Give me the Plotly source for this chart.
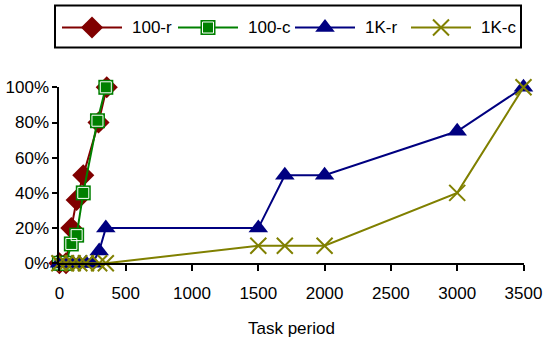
import plotly.graph_objects as go

# Task periods and fraction of completed runs for each configuration
x_100r = [0, 50, 90, 130, 180, 295, 357]
y_100r = [0, 0, 0.20, 0.36, 0.50, 0.80, 1.00]

x_100c = [0, 50, 90, 130, 180, 287, 350]
y_100c = [0, 0, 0.11, 0.16, 0.40, 0.81, 1.00]

x_1kr = [0, 50, 100, 150, 200, 250, 300, 350, 1500, 1700, 2000, 3000, 3500]
y_1kr = [0, 0, 0, 0, 0, 0, 0.07, 0.20, 0.20, 0.50, 0.50, 0.75, 1.00]

x_1kc = [0, 50, 100, 150, 200, 300, 350, 1500, 1700, 2000, 3000, 3500]
y_1kc = [0, 0, 0, 0, 0, 0, 0, 0.10, 0.10, 0.10, 0.40, 1.00]

x_ticks = [0, 500, 1000, 1500, 2000, 2500, 3000, 3500]
y_ticks = [0, 0.2, 0.4, 0.6, 0.8, 1.0]
y_tick_text = ["0%", "20%", "40%", "60%", "80%", "100%"]

names = ["100-r", "100-c", "1K-r", "1K-c"]

W, H = 549, 345
FONT = "Liberation Sans, Arial, sans-serif"
RED, GREEN, NAVY, OLIVE = "#800000", "#008000", "#000080", "#808000"

# plot area in pixels
PX_L, PX_R, PX_T, PX_B = 59.4, 523.5, 87.3, 263.3
x_dom = [PX_L / W, PX_R / W]
y_dom = [1 - PX_B / H, 1 - PX_T / H]

styles = {
    "100-r": dict(color=RED, marker=dict(symbol="diamond", size=17, color=RED)),
    "100-c": dict(color=GREEN, marker=dict(symbol="square", size=15, color=GREEN)),
    "1K-r": dict(color=NAVY, marker=dict(symbol="triangle-up", size=17, color=NAVY)),
    "1K-c": dict(color=OLIVE, marker=dict(symbol="x-thin-open", size=16, color=OLIVE,
                                          line=dict(color=OLIVE, width=2))),
}
# white bevel inside the square markers
bevel = dict(symbol="square-open", size=11, color="white", line=dict(color="white", width=1))

series = [(x_100r, y_100r), (x_100c, y_100c), (x_1kr, y_1kr), (x_1kc, y_1kc)]

fig = go.Figure()
for name, (xs, ys) in zip(names, series):
    st = styles[name]
    fig.add_trace(go.Scatter(
        x=xs, y=ys, name=name, mode="lines+markers",
        line=dict(color=st["color"], width=2),
        marker=st["marker"], cliponaxis=False, showlegend=False,
    ))
    if name == "100-c":
        fig.add_trace(go.Scatter(
            x=xs, y=ys, mode="markers", marker=bevel,
            cliponaxis=False, showlegend=False, hoverinfo="skip",
        ))

# legend box drawn on a pixel-scaled overlay axis
LEG_BOX = dict(x0=55, x1=521, y0=5.5, y1=47.5)
LEG_Y = 27.5
LEG_LINE_X0 = [62, 178, 295, 411]
LEG_LINE_LEN = 60
LEG_TEXT_GAP = 8

shapes = [dict(type="rect", xref="x3", yref="y3", line=dict(color="black", width=2),
               fillcolor="rgba(0,0,0,0)", **LEG_BOX)]
annotations = []
for name, x0 in zip(names, LEG_LINE_X0):
    st = styles[name]
    shapes.append(dict(type="line", xref="x3", yref="y3", x0=x0, x1=x0 + LEG_LINE_LEN,
                       y0=LEG_Y, y1=LEG_Y, line=dict(color=st["color"], width=2),
                       layer="below"))
    xm = x0 + LEG_LINE_LEN / 2
    fig.add_trace(go.Scatter(x=[xm], y=[LEG_Y], xaxis="x3", yaxis="y3", mode="markers",
                             marker=st["marker"], showlegend=False, hoverinfo="skip",
                             cliponaxis=False))
    if name == "100-c":
        fig.add_trace(go.Scatter(x=[xm], y=[LEG_Y], xaxis="x3", yaxis="y3", mode="markers",
                                 marker=bevel, showlegend=False, hoverinfo="skip",
                                 cliponaxis=False))
    annotations.append(dict(xref="x3", yref="y3", x=x0 + LEG_LINE_LEN + LEG_TEXT_GAP, y=LEG_Y,
                            xanchor="left", yanchor="middle", text=name, showarrow=False,
                            font=dict(family=FONT, size=17, color="black")))

axis_font = dict(family=FONT, size=17, color="black")

fig.update_layout(
    width=W, height=H,
    margin=dict(l=0, r=0, t=0, b=0),
    paper_bgcolor="white", plot_bgcolor="rgba(0,0,0,0)",
    font=dict(family=FONT, size=17, color="black"),
    showlegend=False,
    shapes=shapes, annotations=annotations,
    xaxis=dict(
        domain=x_dom, range=[0, 3500], tickvals=x_ticks, automargin=False,
        showgrid=False, zeroline=False,
        showline=True, linecolor="black", linewidth=2,
        ticks="outside", ticklen=6, tickwidth=2, tickcolor="black",
        tickfont=axis_font, ticklabelstandoff=7,
        title=dict(text="Task period", font=axis_font, standoff=20),
    ),
    yaxis=dict(
        domain=y_dom, range=[0, 1], tickvals=y_ticks, ticktext=y_tick_text, automargin=False,
        showgrid=False, zeroline=False,
        showline=True, linecolor="black", linewidth=2,
        ticks="outside", ticklen=5, tickwidth=2, tickcolor="black",
        tickfont=axis_font, ticklabelstandoff=0,
    ),
    # companion axes carry the inner half of the crossing tick marks
    xaxis2=dict(
        domain=x_dom, overlaying="x", range=[0, 3500], tickvals=x_ticks, automargin=False,
        showticklabels=False, showgrid=False, zeroline=False, showline=False,
        ticks="inside", ticklen=6, tickwidth=2, tickcolor="black", anchor="y2",
    ),
    yaxis2=dict(
        domain=y_dom, overlaying="y", range=[0, 1], tickvals=y_ticks, automargin=False,
        showticklabels=False, showgrid=False, zeroline=False, showline=False,
        ticks="inside", ticklen=4, tickwidth=2, tickcolor="black", anchor="x2",
    ),
    xaxis3=dict(domain=[0, 1], range=[0, W], visible=False, fixedrange=True, anchor="y3"),
    yaxis3=dict(domain=[0, 1], range=[H, 0], visible=False, fixedrange=True, anchor="x3"),
)

fig.write_html("out.html")
